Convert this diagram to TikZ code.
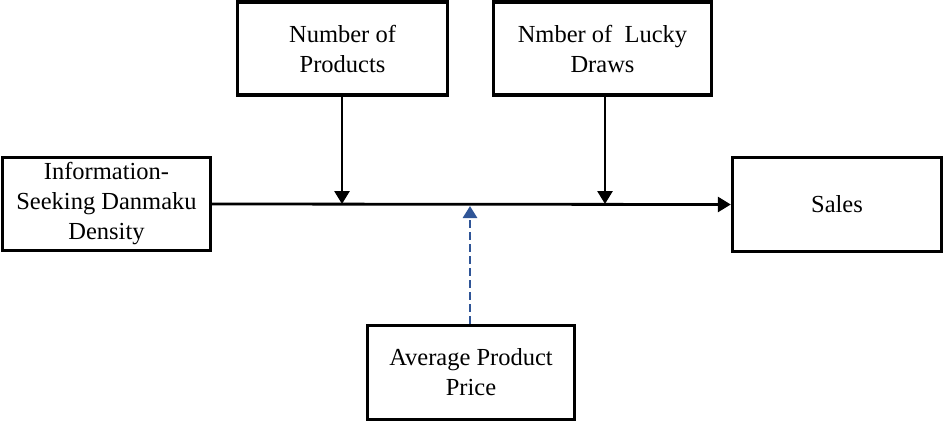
\documentclass[tikz,border=0pt]{standalone}
\usepackage{fontspec}
\setmainfont{Liberation Serif}
\usetikzlibrary{arrows.meta}
\definecolor{dashblue}{HTML}{2F5597}
\begin{document}
\begin{tikzpicture}[x=1pt,y=-1pt,
  box/.style={draw,line width=3.4pt,inner sep=0pt,align=center,font=\fontsize{24.5}{30}\selectfont},
  arr/.style={line width=2.8pt,-{Triangle[length=13pt,width=15pt]}},
  darr/.style={draw=dashblue,line width=2.8pt,dash pattern=on 8pt off 4pt,-{Triangle[length=12pt,width=14pt]}}]
\useasboundingbox (0,0) rectangle (944,423);
\node[box,minimum width=208pt,minimum height=93pt] (info) at (106.5,204) {Information-\\Seeking Danmaku\\Density};
\node[box,minimum width=210pt,minimum height=93pt] (prod) at (342.5,48.5) {Number of\\Products};
\node[box,minimum width=218pt,minimum height=93pt] (lucky) at (602.5,48.5) {Nmber of\ \ Lucky\\Draws};
\node[box,minimum width=209pt,minimum height=94pt] (sales) at (837,204.5) {Sales};
\node[box,minimum width=207pt,minimum height=94pt] (price) at (471,372.5) {Average Product\\Price};
\coordinate (m1) at (342,204);
\coordinate (m2) at (605,204);
\coordinate (m3) at (470,206);
\draw[arr] (info.east) -- (sales.west);
\draw[arr] (prod.south -| m1) -- (m1);
\draw[arr] (lucky.south -| m2) -- (m2);
\draw[darr] (price.north -| m3) -- (m3);
\end{tikzpicture}
\end{document}
